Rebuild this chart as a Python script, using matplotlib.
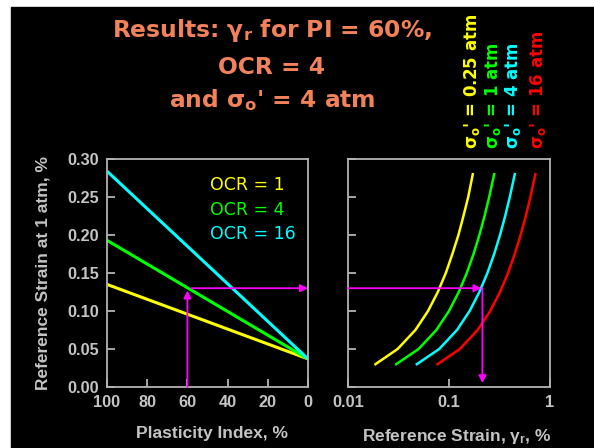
import matplotlib
matplotlib.use("Agg")
import matplotlib.pyplot as plt
from matplotlib.patches import Rectangle

plt.rcParams["mathtext.fontset"] = "dejavusans"
plt.rcParams["mathtext.default"] = "regular"

# ── Data ─────────────────────────────────────────────────────────
# Left panel: reference strain at 1 atm vs plasticity index, one line per OCR
pi_vals = [100, 0]
ocr_labels = ["OCR = 1", "OCR = 4", "OCR = 16"]
ocr1_strain = [0.135, 0.037]
ocr4_strain = [0.193, 0.037]
ocr16_strain = [0.284, 0.037]

# Right panel: reference strain at 1 atm (y) vs reference strain (x), one curve per sigma'
strain_1atm = [0.03, 0.05, 0.075, 0.10, 0.125, 0.15, 0.175, 0.20, 0.225, 0.25, 0.28]
gr_025 = [0.0187, 0.031, 0.0465, 0.062, 0.0775, 0.093, 0.108, 0.124, 0.139, 0.155, 0.172]
gr_1 = [0.030, 0.050, 0.075, 0.100, 0.125, 0.150, 0.175, 0.200, 0.225, 0.250, 0.280]
gr_4 = [0.048, 0.080, 0.120, 0.160, 0.200, 0.240, 0.280, 0.320, 0.360, 0.400, 0.448]
gr_16 = [0.077, 0.128, 0.192, 0.256, 0.320, 0.384, 0.448, 0.512, 0.576, 0.640, 0.716]
sigma_labels = ["0.25 atm", "1 atm", "4 atm", "16 atm"]

# Worked example: PI = 60 %, OCR = 4, sigma' = 4 atm
PI_TARGET = 60
GAMMA_1ATM = 0.13
GAMMA_R = 0.21

left_xticks = [100, 80, 60, 40, 20, 0]
yticks = [0.00, 0.05, 0.10, 0.15, 0.20, 0.25, 0.30]
right_xticks = [0.01, 0.1, 1]
right_xticklabels = ["0.01", "0.1", "1"]

# ── Style ────────────────────────────────────────────────────────
YEL, GRN, CYN, RED = "#FFFF00", "#00FF00", "#00FFFF", "#FF0000"
MAG = "#FF00FF"
GRAY = "#B4B4B4"
TXT = "#C4C4C4"
TITLE_C = "#F2825A"
W, H = 594, 448

fig = plt.figure(figsize=(W / 100, H / 100), dpi=100, facecolor="white")
fig.patches.append(Rectangle((11 / W, 0), 1 - 11 / W, 1 - 7.5 / H,
                             transform=fig.transFigure, color="black", zorder=-5))

ax1 = fig.add_axes([107 / W, 1 - 387 / H, 201 / W, 228 / H])
ax2 = fig.add_axes([348 / W, 1 - 387 / H, 202 / W, 228 / H])

tick_font = dict(family="Liberation Sans", weight="bold", size=11.7)

for ax in (ax1, ax2):
    ax.set_facecolor("black")
    for sp in ax.spines.values():
        sp.set_color(GRAY)
        sp.set_linewidth(1.3)
    ax.tick_params(direction="in", length=6, width=1.3, color=GRAY,
                   labelcolor=TXT, pad=6)
    ax.set_ylim(0, 0.30)
    ax.set_yticks(yticks)

# ── Left panel ───────────────────────────────────────────────────
ax1.plot(pi_vals, ocr1_strain, color=YEL, lw=2.2, solid_capstyle="butt")
ax1.plot(pi_vals, ocr4_strain, color=GRN, lw=2.2, solid_capstyle="butt")
ax1.plot(pi_vals, ocr16_strain, color=CYN, lw=2.2, solid_capstyle="butt")
ax1.set_xlim(100, 0)
ax1.set_xticks(left_xticks)
ax1.set_xticklabels([str(v) for v in left_xticks], fontdict=tick_font)
ax1.set_yticklabels([f"{v:.2f}" for v in yticks], fontdict=tick_font)

for i, (lab, col) in enumerate(zip(ocr_labels, [YEL, GRN, CYN])):
    ax1.text(0.51, 0.885 - i * 0.107, lab, color=col, fontsize=12.5,
             transform=ax1.transAxes, ha="left", va="center")

arrow = dict(arrowstyle="-|>", color=MAG, lw=1.3, mutation_scale=11,
             shrinkA=0, shrinkB=0)
ax1.annotate("", xy=(PI_TARGET, GAMMA_1ATM - 0.003), xytext=(PI_TARGET, 0),
             arrowprops=arrow)
ax1.annotate("", xy=(0, GAMMA_1ATM), xytext=(PI_TARGET - 2, GAMMA_1ATM),
             arrowprops=arrow)

ax1.set_ylabel("Reference Strain at 1 atm, %", color=TXT, fontsize=12.5,
               family="Liberation Sans", weight="bold")
ax1.yaxis.set_label_coords(-0.318, 0.5)
ax1.yaxis.label.set_va("center")
ax1.set_xlabel("Plasticity Index, %", color=TXT, fontsize=12.5,
               family="Liberation Sans", weight="bold")
ax1.xaxis.set_label_coords(0.522, -0.206)
ax1.xaxis.label.set_va("center")

# ── Right panel ──────────────────────────────────────────────────
for xs, col in zip([gr_025, gr_1, gr_4, gr_16], [YEL, GRN, CYN, RED]):
    ax2.plot(xs, strain_1atm, color=col, lw=1.8)
ax2.set_xscale("log")
ax2.set_xlim(0.01, 1)
ax2.set_xticks(right_xticks)
ax2.set_xticklabels(right_xticklabels, fontdict=tick_font)
ax2.xaxis.set_minor_locator(matplotlib.ticker.NullLocator())
ax2.set_yticklabels([])

ax2.annotate("", xy=(GAMMA_R, GAMMA_1ATM), xytext=(0.01, GAMMA_1ATM),
             arrowprops=arrow)
ax2.annotate("", xy=(GAMMA_R * 1.02, 0.005), xytext=(GAMMA_R * 1.02, GAMMA_1ATM),
             arrowprops=arrow)

ax2.set_xlabel(r"Reference Strain, $\gamma_r$, %", color=TXT, fontsize=12.5,
               family="Liberation Sans", weight="bold")
ax2.xaxis.set_label_coords(0.538, -0.218)
ax2.xaxis.label.set_va("center")

# ── Title block ──────────────────────────────────────────────────
title_lines = [r"Results: $\gamma_r$ for PI = 60%,", "OCR = 4",
               r"and $\sigma_o$' = 4 atm"]
for line, ybase in zip(title_lines, [37, 74, 107]):
    fig.text(272 / W, 1 - ybase / H, line, color=TITLE_C, fontsize=16.8,
             weight="bold", ha="center", va="baseline")

# Vertical sigma' legend
for lab, col, xc in zip(sigma_labels, [YEL, GRN, CYN, RED], [472, 493, 513, 538]):
    fig.text(xc / W, 1 - 149 / H, r"$\sigma_o$' = " + lab, color=col,
             fontsize=12, weight="bold", rotation=90, ha="center", va="bottom")

fig.savefig("out.png", dpi=100, facecolor=fig.get_facecolor())
